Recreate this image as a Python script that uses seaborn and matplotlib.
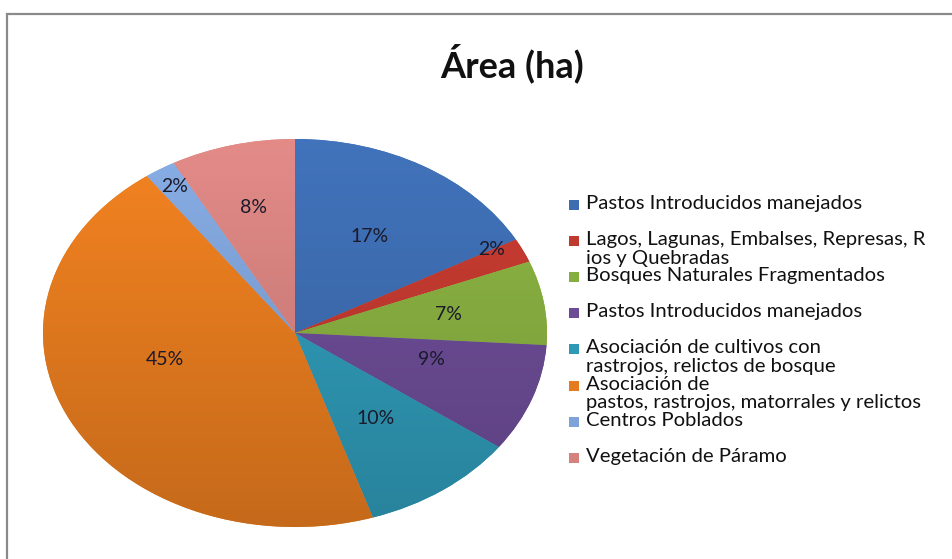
import matplotlib
matplotlib.use("Agg")
import matplotlib.pyplot as plt
from matplotlib.patches import Rectangle
from matplotlib.colors import to_rgb
import numpy as np
import seaborn as sns

sns.set_style("white")
plt.rcParams["font.family"] = ["Lato", "DejaVu Sans"]

# data, clockwise from 12 o'clock
categories = [
    "Pastos Introducidos manejados",
    "Lagos, Lagunas, Embalses, Represas, R\nios y Quebradas",
    "Bosques Naturales Fragmentados",
    "Pastos Introducidos manejados",
    "Asociación de cultivos con\nrastrojos, relictos de bosque",
    "Asociación de\npastos, rastrojos, matorrales y relictos",
    "Centros Poblados",
    "Vegetación de Páramo",
]
shares = [17, 2, 7, 9, 10, 45, 2, 8]
pct_labels = ["17%", "2%", "7%", "9%", "10%", "45%", "2%", "8%"]

colors = ["#3d6cb0", "#c0392f", "#86ad40", "#6b4b94",
          "#2f98b5", "#e57b1f", "#7fa3d8", "#d5827f"]
# where each % label sits: fraction of radius, and angle nudge (deg)
label_dist = [0.58, 0.89, 0.615, 0.56, 0.545, 0.535, 0.895, 0.668]
label_turn = [0, 3.6, 0, 5.5, 0, -12, 0, 0]

W, H = 953, 559
fig = plt.figure(figsize=(W / 100, H / 100), dpi=100)

# chart frame (only top/left edges show in the crop)
fig.patches.append(Rectangle((7.5 / W, -0.2), 1.2, 1.2 - 13.5 / H,
                             transform=fig.transFigure, fill=False,
                             edgecolor="#8a8a8a", linewidth=1.6))

left, right, top, bottom = 43, 547, 139, 527
ax = fig.add_axes([left / W, 1 - bottom / H, (right - left) / W, (bottom - top) / H])
wedges, _ = ax.pie(shares, colors=colors, startangle=90, counterclock=False,
                   wedgeprops=dict(linewidth=0))
ax.set_aspect("auto")

# Excel 2007 style shading: lighter at the top, darker at the bottom
shade = np.linspace(1.07, 0.86, 256)[:, None, None]
for w, c in zip(wedges, colors):
    img = np.clip(np.array(to_rgb(c))[None, None, :] * shade, 0, 1)
    im = ax.imshow(img, extent=(-1, 1, -1, 1), origin="upper",
                   aspect="auto", interpolation="bilinear", zorder=w.get_zorder())
    im.set_clip_path(w)

ax.set_xlim(-1, 1)
ax.set_ylim(-1, 1)
ax.axis("off")

for w, lab, d, t in zip(wedges, pct_labels, label_dist, label_turn):
    ang = np.deg2rad((w.theta1 + w.theta2) / 2 + t)
    ax.text(d * np.cos(ang), d * np.sin(ang), lab, ha="center", va="center",
            fontsize=14, color="#1a1a2a", zorder=5)

fig.text(512 / W, 1 - 63 / H, "Área (ha)", ha="center", va="center",
         fontsize=26, fontweight="bold", color="#111111")

# legend, Excel style: fixed slot per entry, wrapped lines hang below
y0, step = 205, 36.1
for i, (lab, c) in enumerate(zip(categories, colors)):
    yc = y0 + i * step
    fig.patches.append(Rectangle((569 / W, 1 - (yc + 5) / H), 10 / W, 10 / H,
                                 transform=fig.transFigure, facecolor=c,
                                 edgecolor="none"))
    fig.text(586 / W, 1 - (yc - 10) / H, lab, ha="left", va="top",
             fontsize=14.6, color="#111111", linespacing=1.12)

fig.savefig("out.png", dpi=100)
